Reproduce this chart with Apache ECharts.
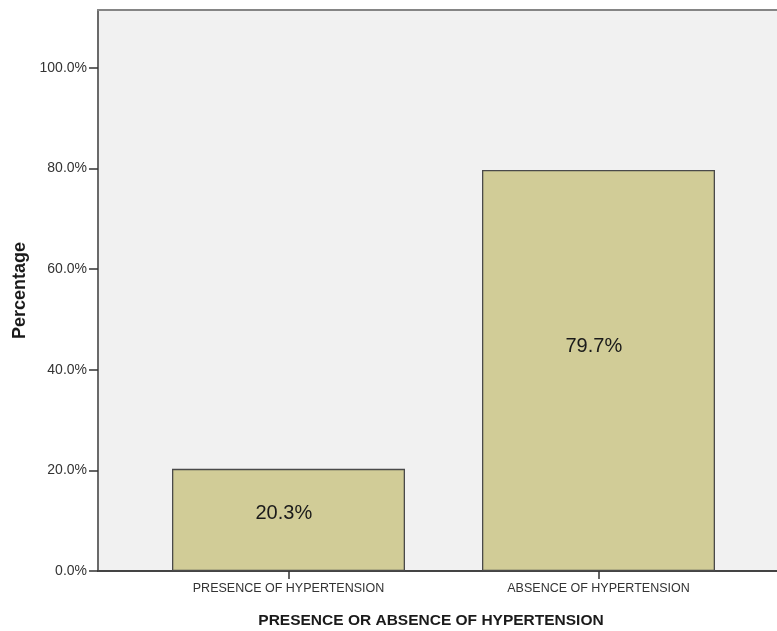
<!DOCTYPE html>
<html>
<head>
<meta charset="utf-8">
<script src="https://cdn.jsdelivr.net/npm/echarts@6/dist/echarts.min.js"></script>
<style>
  html, body { margin: 0; padding: 0; background: #ffffff; }
  #chart { width: 777px; height: 631px; }
</style>
</head>
<body>
<div id="chart"></div>
<script>
const categories = ['PRESENCE OF HYPERTENSION', 'ABSENCE OF HYPERTENSION'];
const percentages = [20.3, 79.7];
const yTickValues = [0, 20, 40, 60, 80, 100];
const xTitle = 'PRESENCE OR ABSENCE OF HYPERTENSION';
const yTitle = 'Percentage';

const FONT = '"Liberation Sans", Arial, sans-serif';
const chart = echarts.init(document.getElementById('chart'), null, { renderer: 'canvas' });

chart.setOption({
  animation: false,
  backgroundColor: '#ffffff',
  textStyle: { fontFamily: FONT },
  grid: [
    { left: 98, top: 10, right: 0, bottom: 60, show: true,
      backgroundColor: '#f1f1f1', borderWidth: 0, containLabel: false },
    { left: 133.5, top: 10, right: 23.5, bottom: 60, containLabel: false }
  ],
  xAxis: [
    { type: 'value', gridIndex: 0, min: 0, max: 1, position: 'bottom',
      axisLine: { show: true, lineStyle: { color: '#444444', width: 2 } },
      axisTick: { show: false }, axisLabel: { show: false }, splitLine: { show: false } },
    { type: 'category', gridIndex: 1, data: categories,
      axisLine: { show: false },
      axisTick: { show: true, alignWithLabel: true, length: 8, lineStyle: { color: '#333333', width: 1.5 } },
      axisLabel: { fontSize: 12.5, color: '#333333', margin: 11, fontFamily: FONT },
      splitLine: { show: false } },
    { type: 'value', gridIndex: 0, min: 0, max: 1, position: 'top',
      axisLine: { show: true, lineStyle: { color: '#858585', width: 2 } },
      axisTick: { show: false }, axisLabel: { show: false }, splitLine: { show: false } }
  ],
  yAxis: [
    { type: 'value', gridIndex: 0, min: 0, max: 111.5,
      name: yTitle, nameLocation: 'middle', nameGap: 67, nameRotate: 90,
      nameTextStyle: { fontSize: 18, fontWeight: 'bold', color: '#1a1a1a', fontFamily: FONT },
      axisLine: { show: true, lineStyle: { color: '#6a6a6a', width: 2 } },
      axisTick: { show: true, inside: false, customValues: yTickValues, length: 9, lineStyle: { color: '#333333', width: 1.5 } },
      axisLabel: { customValues: yTickValues, fontSize: 14, color: '#333333', margin: 11, fontFamily: FONT,
        formatter: v => v.toFixed(1) + '%' },
      splitLine: { show: false } },
    { type: 'value', gridIndex: 1, min: 0, max: 111.5, show: false }
  ],
  series: [{
    type: 'bar',
    xAxisIndex: 1, yAxisIndex: 1,
    data: percentages,
    barWidth: 233,
    itemStyle: { color: '#d1cc97', borderColor: '#4a4a4a', borderWidth: 1.3 },
    label: {
      show: true, position: ['48%', '44%'], align: 'center', verticalAlign: 'middle',
      fontSize: 20, color: '#1a1a1a', fontFamily: FONT,
      formatter: p => p.value.toFixed(1) + '%'
    }
  }],
  graphic: [{
    type: 'text', x: 431, y: 621,
    style: { text: xTitle, textAlign: 'center', textVerticalAlign: 'middle',
      font: 'bold 15.5px "Liberation Sans", Arial, sans-serif', fill: '#1a1a1a' }
  }]
});
</script>
</body>
</html>
